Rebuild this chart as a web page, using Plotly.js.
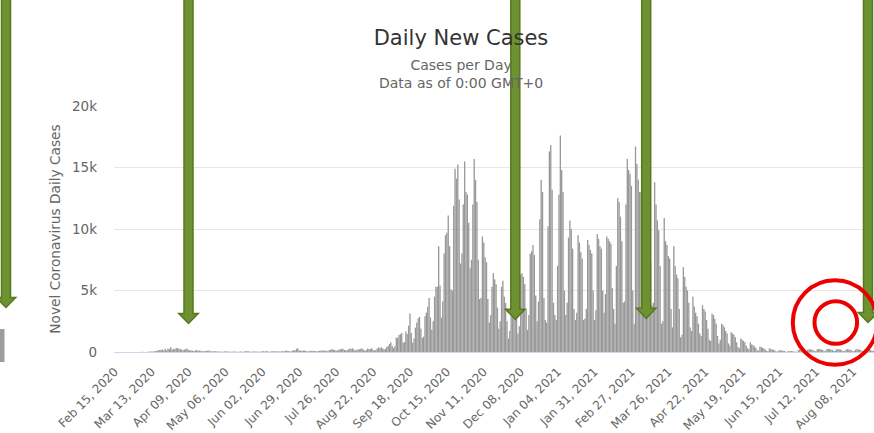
<!DOCTYPE html>
<html><head><meta charset="utf-8">
<script src="https://cdn.plot.ly/plotly-3.0.1.min.js"></script>
<style>html,body{margin:0;padding:0;background:#fff;overflow:hidden}#chart{width:874px;height:433px}</style>
</head><body><div id="chart"></div>
<script>
// ---- DATA (daily new cases, first value = Feb 15, 2020, one value per day) ----
const startYear = 2020, startMonth = 1, startDay = 15; // Feb 15, 2020
const dailyCases = [
0,0,0,0,0,0,0,
0,0,0,0,0,0,0,
0,3,0,2,0,3,11,
7,7,6,9,31,22,47,
39,43,85,94,127,170,182,
190,121,258,126,285,233,384,
176,251,233,322,308,272,240,
178,150,200,236,287,138,160,
118,104,80,120,156,98,120,
109,65,53,89,107,94,114,
54,55,33,66,65,50,40,
43,25,18,33,69,34,43,
24,24,28,42,31,25,30,
21,46,17,21,49,68,61,
55,24,27,45,47,38,50,
23,20,39,56,57,49,89,
48,26,33,51,57,54,54,
37,59,21,67,58,62,98,
115,88,50,67,97,168,127,
260,305,99,127,75,128,116,
82,48,60,93,86,100,83,
71,50,73,100,112,96,140,
104,64,96,138,187,247,192,
172,102,133,178,226,243,266,
162,140,148,206,278,236,300,
199,131,157,233,205,264,287,
176,120,145,273,239,240,298,
180,120,160,290,370,300,380,
290,210,250,410,480,650,800,
510,320,460,1160,1160,1380,1450,
1540,760,810,1670,1470,2140,3130,
1550,760,1090,1980,2390,2750,2860,
1900,1130,1250,2900,3200,3700,4400,
2800,1800,2500,4500,5300,5300,8600,
5400,2800,4100,8000,9500,9700,11100,
8600,5100,5000,11900,14900,14100,15250,
12400,7200,8000,12000,15500,13000,12800,
10500,6800,7500,12000,15700,14000,12200,
7500,4300,4400,9400,8900,7700,7300,
4300,2400,3000,5300,6400,5900,5500,
3600,1900,2500,5300,5800,4500,4000,
2500,1100,1700,3100,5000,5400,4600,
3100,1500,2100,6300,6400,6100,5500,
3500,1800,3000,8000,8200,8700,7900,
4600,2500,4100,10800,14000,13000,4400,
2600,2400,10200,16300,16800,13200,4000,
3000,2600,7000,12800,17600,14800,13000,
5000,3000,4000,9300,10700,10000,8400,
3500,2600,3200,9500,8900,8100,7600,
2600,2700,3500,9100,8700,8300,8000,
5000,2600,3400,9600,9200,8600,8400,
5000,3200,4700,9400,9200,9000,8800,
5200,3500,2300,7000,12500,12200,11000,
9000,4000,4100,12000,15700,14800,14500,
13500,5000,2300,16700,15300,14000,13000,
13000,6000,3500,14500,13500,12500,11000,
7500,3800,4000,13800,12000,10700,9900,
7000,2300,2500,10900,9000,8700,7800,
7600,3500,2000,8600,7000,6300,6000,
3500,1200,1400,6900,6100,5300,5000,
4000,2000,1700,4500,3700,3200,2900,
2300,1500,1300,3800,3500,3300,2600,
1900,1000,900,3100,3000,2700,2300,
1300,700,1000,2300,2200,2000,1700,
1500,700,500,1600,1500,1400,1200,
800,400,300,1100,1000,900,800,
500,300,200,800,600,570,450,
350,150,110,430,400,330,280,
200,90,70,300,250,200,180,
120,50,40,150,130,120,100,
80,30,20,90,70,80,60,
50,20,30,150,200,170,160,
130,50,60,200,230,220,190,
150,60,80,220,250,240,200,
160,70,90,240,260,230,210,
170,80,100,210,250,220,200,
150,60,80,190,230,200,180,
140,70,90,200,240,210,190,
150,70,100,220,260,230,200,
160,80,110,240
];
const tickDates = ['2020-02-15','2020-03-13','2020-04-09','2020-05-06','2020-06-02','2020-06-29','2020-07-26','2020-08-22','2020-09-18','2020-10-15','2020-11-11','2020-12-08','2021-01-04','2021-01-31','2021-02-27','2021-03-26','2021-04-22','2021-05-19','2021-06-15','2021-07-12','2021-08-08'];
const tickLabels = ['Feb 15, 2020','Mar 13, 2020','Apr 09, 2020','May 06, 2020','Jun 02, 2020','Jun 29, 2020','Jul 26, 2020','Aug 22, 2020','Sep 18, 2020','Oct 15, 2020','Nov 11, 2020','Dec 08, 2020','Jan 04, 2021','Jan 31, 2021','Feb 27, 2021','Mar 26, 2021','Apr 22, 2021','May 19, 2021','Jun 15, 2021','Jul 12, 2021','Aug 08, 2021'];
const yTickVals = [0,5000,10000,15000,20000];
const yTickLabels = ['0','5k','10k','15k','20k'];
const titleText = 'Daily New Cases';
const subtitleText = 'Cases per Day<br>Data as of 0:00 GMT+0';
const yTitleText = 'Novel Coronavirus Daily Cases';

// ---- category dates (one per value) ----
const dates = dailyCases.map((_, i) => new Date(Date.UTC(startYear, startMonth, startDay + i)).toISOString().slice(0,10));

// ---- layout geometry ----
const W = 874, H = 433;
const M = {l:114, r:0, t:106, b:81};
const PW = W - M.l - M.r, PH = H - M.t - M.b;
const px = x => (x - M.l) / PW;
const py = y => (H - M.b - y) / PH;

// decorative overlays (pixel positions): arrows [centerX, headTopY], circles [cx, cy, r]
const arrowSpecs = [[6,297.5],[188.5,313.5],[515.3,309.3],[646.2,308.3],[868,312.5]];
const circleSpecs = [[835,322.5,42.2],[835.8,322.5,21.3]];

const shapes = [];
// fragment of neighbouring chart at far left
shapes.push({type:'rect', xref:'paper', yref:'paper', x0:px(-1), x1:px(4.5), y0:py(362), y1:py(329),
  fillcolor:'#9d9d9d', line:{width:0}, layer:'above'});
arrowSpecs.forEach(([cx, ht]) => {
  const sw = 4.5, hw = 9.7, hh = 10;
  const pts = [[cx-sw,-10],[cx+sw,-10],[cx+sw,ht],[cx+hw,ht],[cx,ht+hh],[cx-hw,ht],[cx-sw,ht]];
  const path = 'M ' + pts.map(p => px(p[0]).toFixed(5) + ',' + py(p[1]).toFixed(5)).join(' L ') + ' Z';
  shapes.push({type:'path', xref:'paper', yref:'paper', path:path, fillcolor:'#6e9232',
    line:{color:'#56791f', width:1.5}, layer:'above'});
});
circleSpecs.forEach(([cx, cy, r]) => {
  shapes.push({type:'circle', xref:'paper', yref:'paper', x0:px(cx-r), x1:px(cx+r), y0:py(cy+r), y1:py(cy-r),
    line:{color:'#ee0000', width:4}, fillcolor:'rgba(0,0,0,0)', layer:'above'});
});

const font = "DejaVu Sans, Verdana, sans-serif";

const trace = {
  type:'bar', x:dates, y:dailyCases,
  marker:{color:'#989898', line:{width:0}},
  hoverinfo:'skip'
};

const layout = {
  width:W, height:H,
  margin:M,
  paper_bgcolor:'#ffffff', plot_bgcolor:'#ffffff',
  font:{family:font, color:'#666666'},
  showlegend:false,
  bargap:0.04,
  title:{text:titleText, font:{family:font, size:21, color:'#333333'}, xref:'container', yref:'container',
    x:461/W, xanchor:'center', y:1 - 38/H, yanchor:'middle'},
  annotations:[{text:subtitleText, xref:'paper', yref:'paper', x:px(461), y:py(74), xanchor:'center', yanchor:'middle',
    showarrow:false, font:{family:font, size:14, color:'#666666'}, align:'center'}],
  xaxis:{type:'date', range:['2020-02-14 12:00','2021-08-23 11:00'], tickmode:'array', tickvals:tickDates, ticktext:tickLabels,
    tickangle:-45, tickfont:{size:12, color:'#666666'}, showgrid:false, zeroline:false,
    showline:true, linecolor:'#ccd6eb', linewidth:1, ticks:'', ticklabelstandoff:7, automargin:false, fixedrange:true},
  yaxis:{range:[0,20000], tickmode:'array', tickvals:yTickVals, ticktext:yTickLabels,
    tickfont:{size:13.5, color:'#666666'}, showgrid:true, gridcolor:'#e6e6e6', gridwidth:1, zeroline:false,
    showline:false, ticks:'', ticklabelstandoff:16, automargin:false, fixedrange:true,
    title:{text:yTitleText, font:{size:13.7, color:'#666666'}, standoff:8}},
  shapes:shapes
};

Plotly.newPlot('chart', [trace], layout, {staticPlot:true, displayModeBar:false});
</script>
</body></html>
